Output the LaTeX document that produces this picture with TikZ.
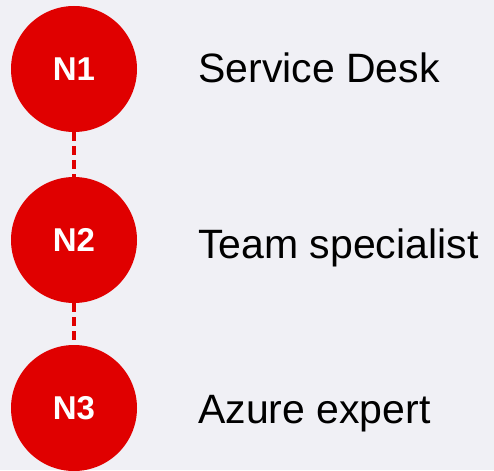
\documentclass[tikz,border=0pt]{standalone}
\usepackage{fontspec}
\setmainfont{Liberation Sans}
\usepackage{tikz}
\usetikzlibrary{positioning}
\definecolor{tierred}{RGB}{224,0,0}
\definecolor{pagegrey}{RGB}{240,240,245}

\begin{document}
\begin{tikzpicture}[x = 1pt, y = -1pt,
  tier/.style = {circle, fill = tierred, minimum size = 126pt, inner sep = 0, text = white, font = \fontsize{33}{38}\selectfont\bfseries},
  role/.style = {anchor = base west, inner sep = 0, font = \fontsize{41}{48}\selectfont},
  link/.style = {tierred, line width = 3.5pt, dash pattern = on 9pt off 5pt}]
 \fill[pagegrey] (0, 0) rectangle (494, 470);
 \useasboundingbox (0, 0) rectangle (494, 470);
  \node[tier] (n1) at (74, 69) {N1};
  \node[tier] (n2) at (74, 240) {N2};
  \node[tier] (n3) at (74, 408) {N3};
  \draw[link] (n1.south) -- (n2.north);
  \draw[link] (n2.south) -- (n3.north);
  \node[role] (desk) at (198, 83) {Service Desk};
  \node[role] (team) at (198, 258) {Team specialist};
  \node[role] (azure) at (198, 423) {Azure expert};
 \end{tikzpicture}
\end{document}
